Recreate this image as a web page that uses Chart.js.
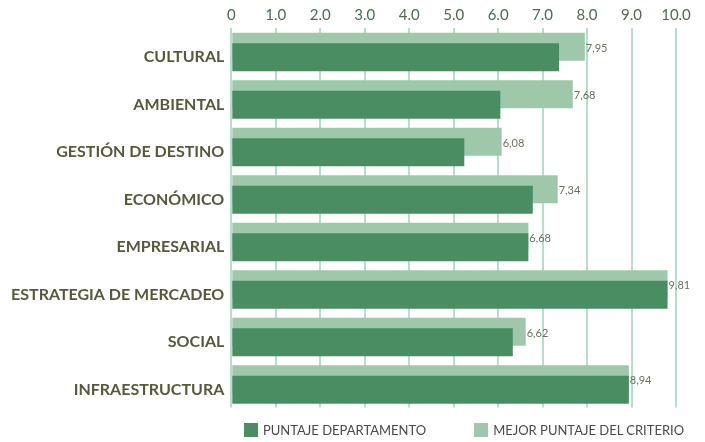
<!DOCTYPE html>
<html>
<head>
<meta charset="utf-8">
<script src="https://cdn.jsdelivr.net/npm/chart.js@4.4.1/dist/chart.umd.min.js"></script>
<style>
    body { margin: 0; background: #fff; }
    #wrap { position: relative; width: 705px; height: 442px; }
    #legend { position: absolute; left: 244px; top: 423px; display: flex; gap: 48px; font: 13px Lato; color: #4a4a4a; white-space: nowrap; }
    .item { display: flex; align-items: center; line-height: 14px; }
    .box { width: 14px; height: 14px; margin-right: 5px; flex: none; }
</style>
</head>
<body>
<div id="wrap">
    <canvas id="chart" width="705" height="442"></canvas>
    <div id="legend"></div>
</div>
<script>
const categories = ['CULTURAL', 'AMBIENTAL', 'GESTIÓN DE DESTINO', 'ECONÓMICO', 'EMPRESARIAL', 'ESTRATEGIA DE MERCADEO', 'SOCIAL', 'INFRAESTRUCTURA'];
const puntajeDepartamento = [7.37, 6.05, 5.24, 6.78, 6.68, 9.81, 6.33, 8.94];
const mejorPuntaje = [7.95, 7.68, 6.08, 7.34, 6.68, 9.81, 6.62, 8.94];
const seriesNames = ['PUNTAJE DEPARTAMENTO', 'MEJOR PUNTAJE DEL CRITERIO'];
const seriesColors = ['#4b8d63', '#9fc8aa'];
const xTickLabels = ['0', '1.0', '2.0', '3.0', '4.0', '5.0', '6.0', '7.0', '8.0', '9.0', '10.0'];

// la barra clara va un poco arriba y la oscura un poco abajo, solapadas
const axisShift = { yA: -4.5, yB: 6 };

const shiftAxes = {
    id: 'shiftAxes',
    afterLayout(chart) {
        Object.keys(axisShift).forEach(id => {
            const s = chart.scales[id];
            s.top += axisShift[id];
            s.bottom += axisShift[id];
            s.configure();
        });
    }
};

// etiquetas de valor al final de las barras claras
const valueLabels = {
    id: 'valueLabels',
    afterDatasetsDraw(chart) {
        const ctx = chart.ctx;
        const meta = chart.getDatasetMeta(0);
        ctx.save();
        ctx.font = '11px Lato';
        ctx.fillStyle = '#6e6e5e';
        ctx.textBaseline = 'middle';
        meta.data.forEach((bar, i) => {
            ctx.fillText(mejorPuntaje[i].toFixed(2).replace('.', ','), bar.x + 1, bar.y + 1.5);
        });
        ctx.restore();
    }
};

new Chart(document.getElementById('chart'), {
    type: 'bar',
    data: {
        labels: categories,
        datasets: [
            { label: seriesNames[1], data: mejorPuntaje, backgroundColor: seriesColors[1], yAxisID: 'yA', order: 1 },
            { label: seriesNames[0], data: puntajeDepartamento, backgroundColor: seriesColors[0], yAxisID: 'yB', order: 0 }
        ]
    },
    options: {
        indexAxis: 'y',
        responsive: false,
        animation: false,
        datasets: {
            bar: { grouped: false, categoryPercentage: 0.59, barPercentage: 1 }
        },
        layout: { padding: { left: 0, right: 29, top: 4.3, bottom: 34.5 } },
        plugins: {
            legend: { display: false },
            tooltip: { enabled: false }
        },
        scales: {
            x: {
                type: 'linear',
                position: 'top',
                min: 0,
                max: 10,
                border: { display: false },
                grid: { color: '#b5dfcb', lineWidth: 2, drawTicks: false },
                ticks: {
                    stepSize: 1,
                    padding: 3.2,
                    color: '#4e6b4f',
                    font: { family: 'Lato', size: 15 },
                    callback: (v) => xTickLabels[v]
                },
                afterFit: (s) => { s.height = 23.2; }
            },
            yA: {
                type: 'category',
                axis: 'y',
                display: false
            },
            yB: {
                type: 'category',
                axis: 'y',
                position: 'left',
                border: { display: false },
                grid: { display: false, drawTicks: false },
                ticks: {
                    padding: 7,
                    color: '#58593c',
                    font: { family: 'Lato', size: 16, weight: 'bold' }
                },
                afterFit: (s) => { s.width = 231.3; }
            }
        }
    },
    plugins: [shiftAxes, valueLabels]
});

const legend = document.getElementById('legend');
seriesNames.forEach((name, i) => {
    const item = document.createElement('div');
    item.className = 'item';
    item.innerHTML = `<span class="box" style="background:${seriesColors[i]}"></span><span>${name}</span>`;
    legend.appendChild(item);
});
</script>
</body>
</html>
